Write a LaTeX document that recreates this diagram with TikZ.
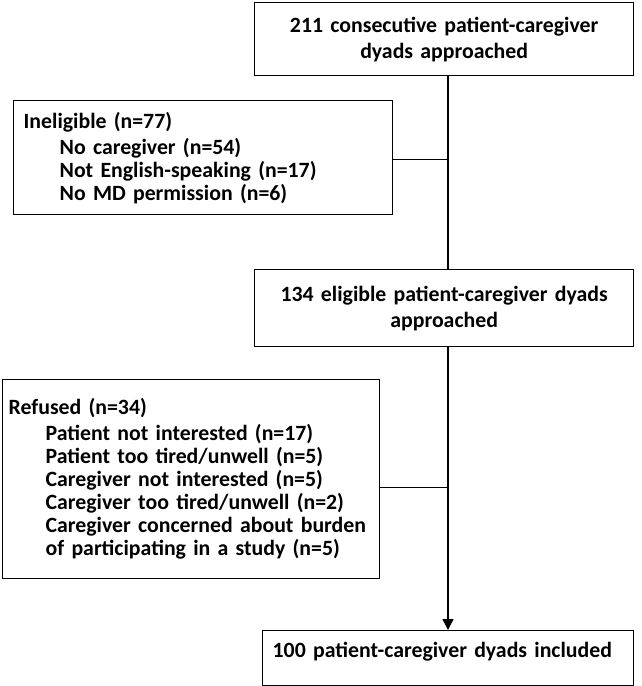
\documentclass[tikz,border=0pt]{standalone}
\usepackage{fontspec}
\setmainfont{Carlito}
\usetikzlibrary{positioning, arrows.meta}

\begin{document}
\begin{tikzpicture}[
  x=1pt, y=-1pt,
  every node/.style={font=\fontsize{21.8}{23}\selectfont\bfseries},
  box/.style={rectangle, draw=black, line width=1.3pt, inner sep=0pt,
              anchor=north west},
  mainbox/.style={box, minimum width=379pt, text width=379pt, align=center,
                  font=\fontsize{21.8}{26}\selectfont\bfseries},
  link/.style={line width=1.3pt},
  arrow/.style={-{Triangle[length=11pt, width=11pt]}, line width=1.3pt},
]
\useasboundingbox (0,0) rectangle (641,686);

% Main flow boxes
\node[mainbox, minimum height=73pt] (approached) at (254,2)
      {211 consecutive patient-caregiver\\dyads approached};
\node[mainbox, minimum height=77pt] (eligible) at (254,269)
      {134 eligible patient-caregiver dyads\\approached};
\node[box, minimum width=371pt, minimum height=55pt, text width=351pt,
      inner xsep=10pt, align=left, text height=27pt, text depth=28pt]
      (included) at (262,630) {100 patient-caregiver dyads included};

% Exclusion boxes
\node[box, minimum width=379pt, minimum height=114pt, text width=359pt,
      inner xsep=10pt, align=left] (inelig) at (13,100)
      {Ineligible (n=77)\\[3pt]
       \hspace*{36pt}No caregiver (n=54)\\
       \hspace*{36pt}Not English-speaking (n=17)\\
       \hspace*{36pt}No MD permission (n=6)};
\node[box, minimum width=377pt, minimum height=199pt, text width=365pt,
      inner xsep=6pt, align=left] (refused) at (2,379)
      {Refused (n=34)\\[3pt]
       \hspace*{37pt}Patient not interested (n=17)\\
       \hspace*{37pt}Patient too tired/unwell (n=5)\\
       \hspace*{37pt}Caregiver not interested (n=5)\\
       \hspace*{37pt}Caregiver too tired/unwell (n=2)\\
       \hspace*{37pt}Caregiver concerned about burden\\
       \hspace*{37pt}of participating in a study (n=5)};

% Connectors
\coordinate (spine) at (448,0);
\coordinate (inelj) at ([yshift=-2pt]inelig.east);
\coordinate (refj) at ([yshift=-8pt]refused.east);
\draw[link] (approached.south -| spine) -- (eligible.north -| spine);
\draw[link] (inelj) -- (inelj -| spine);
\draw[arrow] (eligible.south -| spine) -- (included.north -| spine);
\draw[link] (refj) -- (refj -| spine);

\end{tikzpicture}
\end{document}
